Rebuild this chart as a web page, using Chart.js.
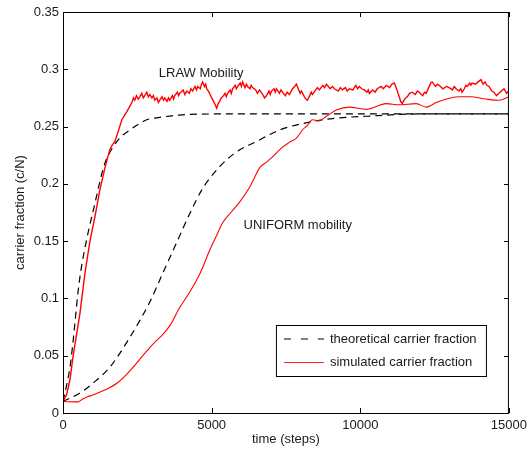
<!DOCTYPE html>
<html>
<head>
<meta charset="utf-8">
<script src="https://cdn.jsdelivr.net/npm/chart.js@4.4.0/dist/chart.umd.min.js"></script>
<style>
  html, body { margin: 0; padding: 0; background: #fff; }
  #wrap { width: 532px; height: 449px; }
</style>
</head>
<body>
<div id="wrap"><canvas id="carrierChart" width="532" height="449"></canvas></div>
<script>
// values: time in steps, carrier fraction c/N
const lrawTheoryT = [0, 120, 235, 320, 403, 503, 600, 700, 850, 1074, 1250, 1410, 1678, 1950, 2248, 2600, 2819, 3255, 3900, 5000, 7000, 10000, 15000];
const lrawTheory = [0.010, 0.024, 0.040, 0.058, 0.079, 0.105, 0.124, 0.139, 0.158, 0.183, 0.203, 0.218, 0.232, 0.241, 0.247, 0.253, 0.256, 0.258, 0.260, 0.261, 0.261, 0.261, 0.261];

const lrawSimT = [0, 120, 235, 336, 570, 738, 906, 1080, 1242, 1420, 1577, 1660, 1745, 1860, 1980, 2148, 2316,
  2370, 2416, 2470, 2530, 2584, 2650, 2700, 2752, 2820, 2870,
  2920, 2990, 3040, 3087, 3160, 3210, 3255, 3330, 3380, 3423,
  3500, 3550, 3590, 3680, 3720, 3758, 3850, 3890, 3926, 4040,
  4100, 4161, 4250, 4300, 4362, 4440, 4490, 4530, 4620, 4660,
  4698, 4760, 4800, 4832, 4890, 4933, 5000, 5067, 5120, 5168,
  5220, 5269, 5320, 5369, 5450, 5490, 5537, 5620, 5660, 5705,
  5790, 5830, 5873, 5960, 6000, 6041, 6120, 6170, 6208, 6290,
  6330, 6376, 6480, 6540, 6611, 6720, 6780, 6846, 6930, 6970,
  7014, 7100, 7140, 7181, 7280, 7330, 7383, 7480, 7540, 7618,
  7720, 7790, 7853, 7930, 7980, 8021, 8120, 8170, 8222, 8300,
  8350, 8390, 8500, 8560, 8625, 8740, 8800, 8860, 8990, 9060,
  9128, 9260, 9330, 9397, 9500, 9560, 9632, 9750, 9850, 9910,
  9967, 10050, 10135, 10220, 10270, 10302, 10420, 10500, 10571, 10700,
  10780, 10873, 10990, 11060, 11142, 11220, 11270, 11310, 11360, 11410,
  11490, 11578, 11660, 11746, 11850, 11920, 11981, 12100, 12160, 12216,
  12300, 12370, 12417, 12530, 12600, 12652, 12780, 12900, 12988, 13100,
  13160, 13222, 13320, 13380, 13424, 13500, 13550, 13592, 13680, 13720,
  13760, 13880, 13960, 14062, 14130, 14196, 14260, 14330, 14420, 14498,
  14580, 14665, 14750, 14833, 14920, 15000];
const lrawSim = [0.010, 0.016, 0.029, 0.049, 0.087, 0.122, 0.150, 0.172, 0.195, 0.215, 0.230, 0.234, 0.237, 0.246, 0.256, 0.263, 0.271,
  0.275, 0.273, 0.277, 0.274, 0.276, 0.279, 0.275, 0.277, 0.280, 0.276,
  0.278, 0.275, 0.277, 0.273, 0.275, 0.271, 0.273, 0.276, 0.273, 0.275,
  0.272, 0.275, 0.273, 0.277, 0.274, 0.277, 0.280, 0.277, 0.279, 0.282,
  0.278, 0.281, 0.279, 0.283, 0.281, 0.285, 0.282, 0.285, 0.283, 0.287,
  0.289, 0.285, 0.287, 0.283, 0.281, 0.279, 0.275, 0.272, 0.269, 0.266,
  0.270, 0.272, 0.275, 0.276, 0.279, 0.276, 0.279, 0.282, 0.279, 0.283,
  0.286, 0.283, 0.285, 0.288, 0.285, 0.289, 0.284, 0.287, 0.285, 0.283,
  0.286, 0.284, 0.282, 0.279, 0.282, 0.278, 0.275, 0.277, 0.281, 0.278,
  0.281, 0.283, 0.280, 0.283, 0.279, 0.282, 0.280, 0.277, 0.280, 0.278,
  0.283, 0.285, 0.287, 0.282, 0.279, 0.281, 0.276, 0.274, 0.273, 0.277,
  0.280, 0.278, 0.282, 0.284, 0.282, 0.286, 0.284, 0.287, 0.283, 0.285,
  0.283, 0.281, 0.284, 0.282, 0.284, 0.281, 0.283, 0.282, 0.286, 0.283,
  0.285, 0.283, 0.282, 0.280, 0.282, 0.279, 0.282, 0.280, 0.283, 0.285,
  0.283, 0.286, 0.284, 0.287, 0.288, 0.283, 0.279, 0.276, 0.272, 0.270,
  0.274, 0.276, 0.279, 0.280, 0.278, 0.281, 0.280, 0.277, 0.280, 0.279,
  0.284, 0.288, 0.289, 0.285, 0.287, 0.286, 0.283, 0.285, 0.284, 0.282,
  0.285, 0.283, 0.281, 0.283, 0.280, 0.283, 0.286, 0.285, 0.288, 0.286,
  0.288, 0.287, 0.289, 0.291, 0.287, 0.289, 0.286, 0.285, 0.281, 0.280,
  0.277, 0.279, 0.281, 0.283, 0.279, 0.281];

const uniformTheoryT = [0, 570, 1007, 1577, 2248, 2920, 3390, 3759, 4262, 4699, 5269, 5840, 6510, 7282, 7953, 9060, 10200, 12000, 15000];
const uniformTheory = [0.010, 0.0175, 0.026, 0.040, 0.066, 0.097, 0.124, 0.145, 0.174, 0.196, 0.215, 0.228, 0.237, 0.247, 0.252, 0.257, 0.259, 0.261, 0.261];

const uniformSimT = [0, 503, 650, 805, 1007, 1400, 1812, 2150, 2483, 2750, 3020, 3300, 3590, 3926, 4250, 4497, 4665, 4933, 5150,
  5370, 5650, 5940, 6276, 6450, 6611, 6850, 7048, 7383, 7600, 7853, 8054, 8222, 8390, 8600, 8860, 9195, 9632, 10202, 10873,
  11310, 11880, 12216, 12600, 13323, 13700, 14229, 14665, 15000];
const uniformSim = [0.010, 0.0097, 0.012, 0.014, 0.0157, 0.020, 0.026, 0.034, 0.0437, 0.052, 0.060, 0.067, 0.076, 0.092, 0.105, 0.116, 0.125, 0.142, 0.154,
  0.166, 0.175, 0.184, 0.197, 0.206, 0.214, 0.219, 0.2235, 0.232, 0.236, 0.240, 0.247, 0.251, 0.256, 0.255, 0.259, 0.2645, 0.267, 0.265, 0.270,
  0.269, 0.270, 0.267, 0.2715, 0.276, 0.276, 0.274, 0.273, 0.276];

const xTickVals = [0, 5000, 10000, 15000];
const yTickVals = [0, 0.05, 0.1, 0.15, 0.2, 0.25, 0.3, 0.35];

const legendLabels = ['theoretical carrier fraction', 'simulated carrier fraction'];
// curve labels, placed in data units
const notes = [
  { text: 'LRAW Mobility', x: 3222, y: 0.2968 },
  { text: 'UNIFORM mobility', x: 6074, y: 0.164 }
];

const FONT = '"Liberation Sans", Arial, Helvetica, sans-serif';
const TEXT = '#1a1a1a';

function pts(ts, vs) {
  return ts.map((t, i) => ({ x: t, y: vs[i] }));
}

const framePlugin = {
  id: 'frame',
  afterDraw(chart) {
    const { ctx, chartArea: a, scales: { x, y } } = chart;
    ctx.save();
    ctx.strokeStyle = '#000';
    ctx.lineWidth = 1;
    ctx.setLineDash([]);
    ctx.strokeRect(a.left + 0.5, a.top + 0.5, a.right - a.left - 1, a.bottom - a.top);

    // inward ticks on all four sides
    const tl = 5;
    ctx.beginPath();
    xTickVals.forEach(v => {
      const px = Math.round(x.getPixelForValue(v)) + 0.5;
      ctx.moveTo(px, a.bottom); ctx.lineTo(px, a.bottom - tl);
      ctx.moveTo(px, a.top); ctx.lineTo(px, a.top + tl);
    });
    yTickVals.forEach(v => {
      const py = Math.round(y.getPixelForValue(v)) + 0.5;
      ctx.moveTo(a.left, py); ctx.lineTo(a.left + tl, py);
      ctx.moveTo(a.right, py); ctx.lineTo(a.right - tl, py);
    });
    ctx.stroke();

    // curve labels
    ctx.font = '13px ' + FONT;
    ctx.fillStyle = TEXT;
    ctx.textBaseline = 'middle';
    ctx.textAlign = 'left';
    notes.forEach(n => {
      ctx.fillText(n.text, x.getPixelForValue(n.x), y.getPixelForValue(n.y));
    });

    // legend box, lower right inside the axes
    const bx = a.right - 233, by = a.bottom - 88, bw = 210, bh = 51;
    ctx.fillStyle = '#fff';
    ctx.fillRect(bx, by, bw, bh);
    ctx.strokeStyle = '#000';
    ctx.strokeRect(bx + 0.5, by + 0.5, bw, bh);

    const rows = [by + 14, by + 37];
    ctx.lineWidth = 1.2;
    ctx.strokeStyle = '#000';
    ctx.setLineDash([7, 10]);
    ctx.beginPath();
    ctx.moveTo(bx + 8, rows[0]); ctx.lineTo(bx + 48, rows[0]);
    ctx.stroke();
    ctx.setLineDash([]);
    ctx.strokeStyle = '#ff2020';
    ctx.lineWidth = 1;
    ctx.beginPath();
    ctx.moveTo(bx + 8, rows[1] + 0.5); ctx.lineTo(bx + 48, rows[1] + 0.5);
    ctx.stroke();

    ctx.fillStyle = TEXT;
    legendLabels.forEach((lbl, i) => ctx.fillText(lbl, bx + 54, rows[i]));
    ctx.restore();
  }
};

const ctx = document.getElementById('carrierChart').getContext('2d');
new Chart(ctx, {
  type: 'line',
  data: {
    datasets: [
      { label: 'LRAW simulated', data: pts(lrawSimT, lrawSim), borderColor: '#ff0000', borderWidth: 1.4, tension: 0 },
      { label: 'UNIFORM simulated', data: pts(uniformSimT, uniformSim), borderColor: '#ff0000', borderWidth: 1.1,
        cubicInterpolationMode: 'monotone' },
      { label: 'LRAW theoretical', data: pts(lrawTheoryT, lrawTheory), borderColor: '#000', borderWidth: 1.2,
        borderDash: [7, 5], cubicInterpolationMode: 'monotone' },
      { label: 'UNIFORM theoretical', data: pts(uniformTheoryT, uniformTheory), borderColor: '#000', borderWidth: 1.2,
        borderDash: [7, 5], cubicInterpolationMode: 'monotone' }
    ]
  },
  options: {
    responsive: false,
    animation: false,
    layout: { padding: { top: 12, right: 22, left: 0, bottom: 0 } },
    elements: { point: { radius: 0 } },
    plugins: {
      legend: { display: false },
      tooltip: { enabled: false }
    },
    scales: {
      x: {
        type: 'linear',
        min: 0,
        max: 15000,
        grid: { display: false, drawTicks: false },
        border: { display: false },
        afterBuildTicks: s => { s.ticks = xTickVals.map(v => ({ value: v })); },
        afterFit: s => { s.height = 36; },
        ticks: {
          padding: 5, maxRotation: 0, autoSkip: false,
          color: TEXT, font: { family: FONT, size: 13 },
          callback: v => String(v)
        },
        title: {
          display: true, text: 'time (steps)', color: TEXT,
          font: { family: FONT, size: 13 }, padding: { top: 0, bottom: 2 }
        }
      },
      y: {
        type: 'linear',
        min: 0,
        max: 0.35,
        grid: { display: false, drawTicks: false },
        border: { display: false },
        afterBuildTicks: s => { s.ticks = yTickVals.map(v => ({ value: v })); },
        afterFit: s => { s.width = 63; },
        ticks: {
          padding: 4, autoSkip: false,
          color: TEXT, font: { family: FONT, size: 13 },
          callback: v => String(Math.round(v * 100) / 100)
        },
        title: {
          display: true, text: 'carrier fraction (c/N)', color: TEXT,
          font: { family: FONT, size: 13 }, padding: { top: 13, bottom: 0 }
        }
      }
    }
  },
  plugins: [framePlugin]
});
</script>
</body>
</html>
